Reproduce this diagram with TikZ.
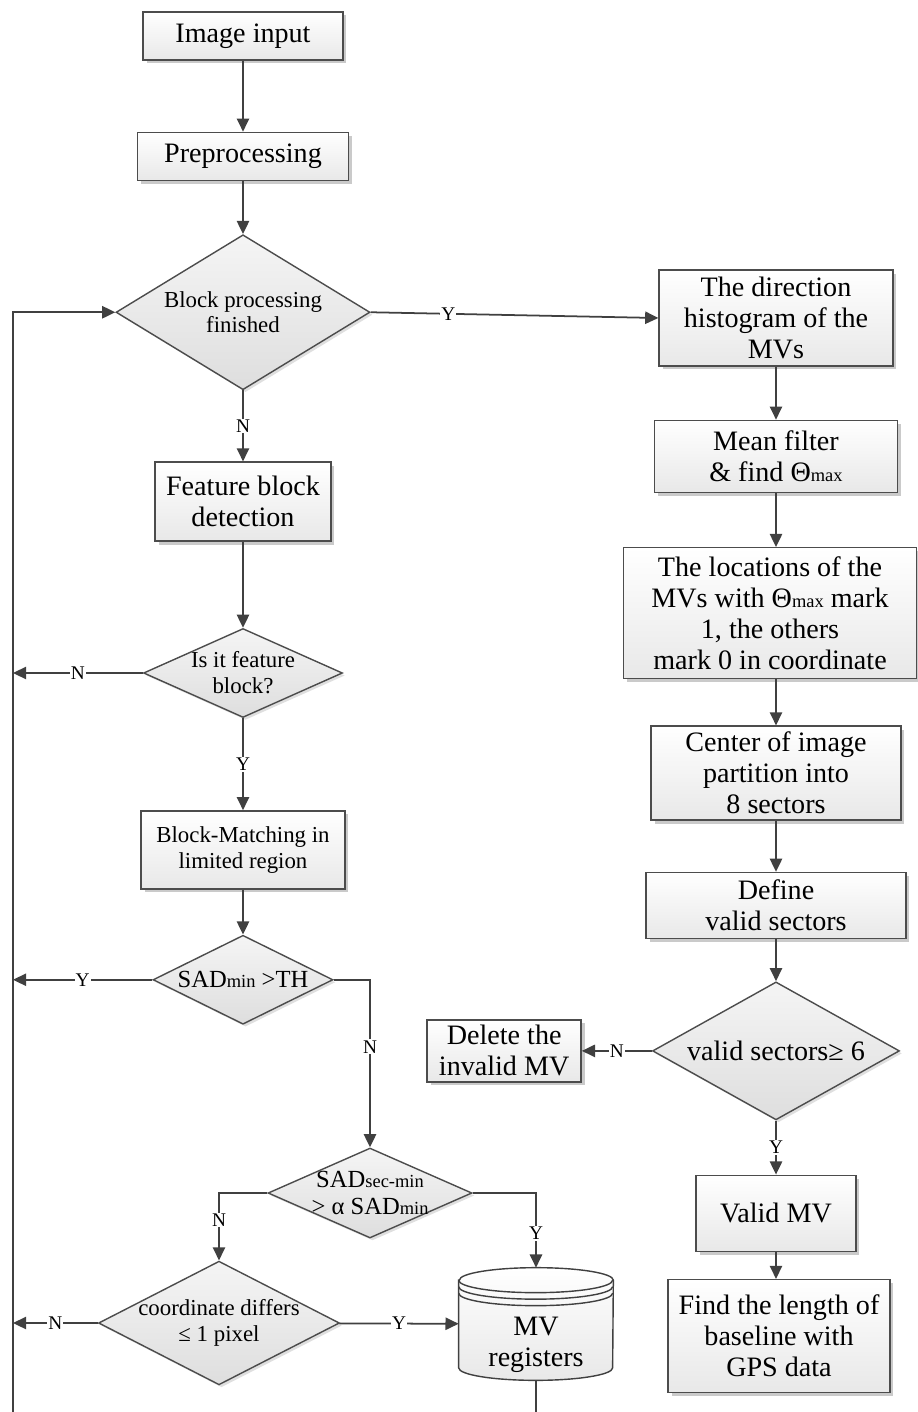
\documentclass[tikz,border=0pt]{standalone}
\usepackage{fontspec}
\setmainfont{Liberation Serif}
\usetikzlibrary{arrows.meta, positioning, shapes.geometric, shadows, backgrounds}

\newcommand{\subtxt}[1]{{\fontsize{10.5}{11}\selectfont #1}}

\begin{document}
\begin{tikzpicture}[
    x=0.02cm, y=-0.02cm,
    box/.style={draw=black!70, line width=0.8pt, top color=white, bottom color=black!9, drop shadow={shadow xshift=0.07cm, shadow yshift=-0.07cm, fill=black!35, opacity=0.6}, align=center, inner sep=1pt, font=\fontsize{16}{17.6}\selectfont},
    decision/.style={diamond, draw=black!70, line width=0.8pt, top color=black!4, bottom color=black!13, drop shadow={shadow xshift=0.05cm, shadow yshift=-0.05cm, fill=black!25, opacity=0.5}, align=center, inner sep=-12pt, font=\fontsize{13}{14.7}\selectfont},
    register/.style={minimum width=3.08cm, minimum height=2.24cm, align=center, inner sep=0pt, font=\fontsize{16}{17.6}\selectfont},
    yn/.style={fill=white, inner sep=0.6pt, font=\fontsize{11}{12}\selectfont},
    line/.style={line width=1pt, draw=black!75},
    arrow/.style={-{Triangle[length=7.5pt, width=7pt]}, line width=1pt, draw=black!75}
]
\useasboundingbox (0,0) rectangle (918,1412);

% left column
\node[box, minimum width=4cm, minimum height=0.96cm] (imginput) at (243,36) {Image input};
\node[box, minimum width=4.22cm, minimum height=0.96cm, below=1.42cm of imginput] (preproc) {Preprocessing};
\node[decision, minimum width=5.08cm, minimum height=3.1cm, below=1.06cm of preproc] (bpf) {Block processing\\finished};
\node[box, minimum width=3.52cm, minimum height=1.58cm, below=1.42cm of bpf] (featdet) {Feature block\\detection};
\node[decision, minimum width=3.98cm, minimum height=1.78cm, below=1.72cm of featdet] (isfeat) {Is it feature\\block?};
\node[box, font=\fontsize{13}{14.7}\selectfont, minimum width=4.08cm, minimum height=1.56cm, below=1.84cm of isfeat] (blkmatch) {Block-Matching in\\limited region};
\node[decision, font=\fontsize{14}{16}\selectfont, minimum width=3.6cm, minimum height=1.78cm, below=0.9cm of blkmatch] (sadth) {SAD\subtxt{min} >TH};
\node[decision, font=\fontsize{14}{15.5}\selectfont, minimum width=4.08cm, minimum height=1.8cm] (sadsec) at (370,1193) {SAD\subtxt{sec-min}\\> α SAD\subtxt{min}};
\node[decision, minimum width=4.82cm, minimum height=2.46cm] (coord) at (219,1323) {coordinate differs\\≤ 1 pixel};
\node[register] (mvreg) at (536,1324) {\rule{0pt}{1.2cm}MV\\registers};

% register drum
\begin{scope}[on background layer]
\draw[line, line width=0.8pt, top color=white, bottom color=black!9] ([yshift=-0.25cm]mvreg.north west) -- ([yshift=0.25cm]mvreg.south west)
    arc[start angle=180, end angle=360, x radius=1.54cm, y radius=0.25cm] -- ([yshift=-0.25cm]mvreg.north east)
    arc[start angle=0, end angle=180, x radius=1.54cm, y radius=0.25cm] -- cycle;
\draw[line, line width=0.8pt] ([yshift=-0.25cm]mvreg.north west) arc[start angle=180, end angle=360, x radius=1.54cm, y radius=0.25cm];
\draw[line, line width=0.8pt] ([yshift=-0.38cm]mvreg.north west) arc[start angle=180, end angle=360, x radius=1.54cm, y radius=0.25cm];
\draw[line, line width=0.8pt] ([yshift=-0.51cm]mvreg.north west) arc[start angle=180, end angle=360, x radius=1.54cm, y radius=0.25cm];
\end{scope}

% right column
\node[box, minimum width=4.68cm, minimum height=1.92cm] (hist) at (776,318) {The direction\\histogram of the\\MVs};
\node[box, minimum width=4.86cm, minimum height=1.44cm, below=1.06cm of hist] (meanflt) {Mean filter\\\& find Θ\subtxt{max}};
\node[box, minimum width=5.86cm, minimum height=2.62cm, below=1.08cm of meanflt, xshift=-0.12cm] (locmark) {The locations of the\\MVs with Θ\subtxt{max} mark\\1, the others\\mark 0 in coordinate};
\node[box, minimum width=5cm, minimum height=1.88cm, below=0.92cm of locmark, xshift=0.12cm] (sectors) {Center of image\\partition into\\8 sectors};
\node[box, minimum width=5.2cm, minimum height=1.32cm, below=1.02cm of sectors] (validdef) {Define\\valid sectors};
\node[decision, font=\fontsize{16}{17.6}\selectfont, minimum width=4.94cm, minimum height=2.76cm, below=0.84cm of validdef] (validsec) {valid sectors≥ 6};
\node[box, minimum width=3.08cm, minimum height=1.24cm, left=1.4cm of validsec] (delmv) {Delete the\\invalid MV};
\node[box, minimum width=3.2cm, minimum height=1.52cm, below=1.08cm of validsec] (validmv) {Valid MV};
\node[box, minimum width=4.44cm, minimum height=2.26cm, below=0.54cm of validmv, xshift=0.06cm] (findlen) {Find the length of\\baseline with\\GPS data};

\coordinate (loopbot) at (13,1412);
\coordinate (mvbot) at (536,1412);

\draw[arrow] (imginput) -- (preproc);
\draw[arrow] (preproc) -- (bpf);
\draw[arrow] (bpf) -- node[yn]{N} (featdet);
\draw[arrow] (featdet) -- (isfeat);
\draw[arrow] (isfeat) -- node[yn]{Y} (blkmatch);
\draw[arrow] (blkmatch) -- (sadth);
\draw[arrow] (sadth.east) -| node[yn, pos=0.7]{N} (sadsec.north);
\draw[arrow] (sadsec.west) -| node[yn, pos=0.7]{N} (coord.north);
\draw[arrow] (sadsec.east) -| node[yn, pos=0.77]{Y} (mvreg.north);
\draw[arrow] (coord) -- node[yn]{Y} (mvreg);
\draw[line] (mvreg) -- (mvbot);

% back to block loop
\draw[arrow] (loopbot) |- (bpf.west);
\draw[arrow] (isfeat.west) -- node[yn]{N} (isfeat.west -| loopbot);
\draw[arrow] (sadth.west) -- node[yn]{Y} (sadth.west -| loopbot);
\draw[arrow] (coord.west) -- node[yn]{N} (coord.west -| loopbot);

\draw[arrow] (bpf.east) -- node[yn, pos=0.27]{Y} (hist.west);
\draw[arrow] (hist) -- (meanflt);
\draw[arrow] (meanflt.south) -- (meanflt.south |- locmark.north);
\draw[arrow] (sectors.north |- locmark.south) -- (sectors.north);
\draw[arrow] (sectors) -- (validdef);
\draw[arrow] (validdef) -- (validsec);
\draw[arrow] (validsec) -- node[yn]{N} (delmv);
\draw[arrow] (validsec) -- node[yn]{Y} (validmv);
\draw[arrow] (validmv.south) -- (validmv.south |- findlen.north);
\end{tikzpicture}
\end{document}
